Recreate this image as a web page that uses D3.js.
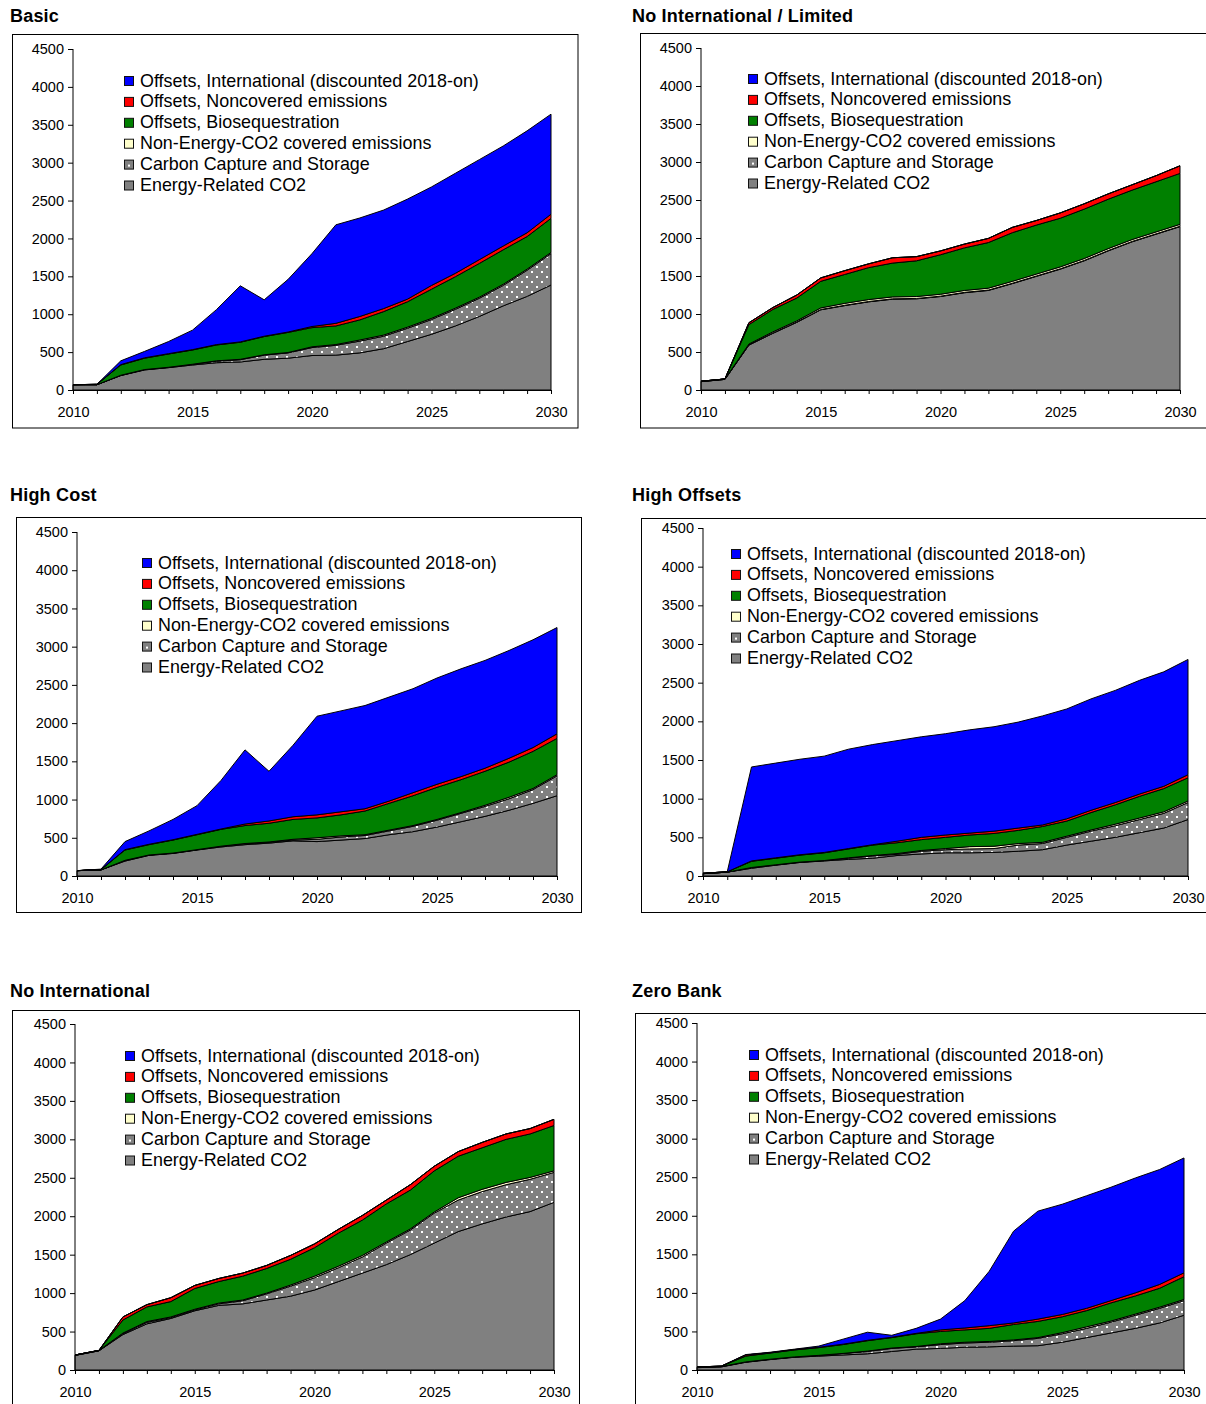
<!DOCTYPE html>
<html><head><meta charset="utf-8">
<script src="https://cdn.jsdelivr.net/npm/d3@7"></script>
<style>
body{margin:0;background:#fff}
svg{display:block}
text{font-family:"Liberation Sans",Arial,sans-serif;fill:#000}
</style>
</head><body>
<svg id="chart" width="1206" height="1404"></svg>
<script>
// ---------- categories / ticks ----------
const years = [2010,2011,2012,2013,2014,2015,2016,2017,2018,2019,2020,2021,2022,2023,2024,2025,2026,2027,2028,2029,2030];
const yTickValues = [0,500,1000,1500,2000,2500,3000,3500,4000,4500];
const xTickLabels = [2010,2015,2020,2025,2030];
const seriesKeys = ["energy","ccs","nonEnergy","bio","noncovered","intl"];
const seriesNames = ["Energy-Related CO2","Carbon Capture and Storage","Non-Energy-CO2 covered emissions","Offsets, Biosequestration","Offsets, Noncovered emissions","Offsets, International (discounted 2018-on)"];
const panelTitles = ["Basic","No International / Limited","High Cost","High Offsets","No International","Zero Bank"];

// ---------- Basic ----------
const basicEnergy     = [70,70,190,265,295,330,360,370,405,420,455,460,490,545,640,735,845,970,1110,1235,1385];
const basicCCS        = [0,0,5,5,5,10,20,30,55,70,105,130,155,165,175,195,220,240,270,345,415];
const basicNonEnergy  = [0,0,0,0,0,0,5,5,5,5,10,10,15,15,15,15,15,15,15,15,15];
const basicBio        = [0,5,135,150,175,188,209,225,240,265,253,245,265,310,335,385,415,445,455,430,450];
const basicNoncovered = [0,0,5,5,5,5,5,5,5,5,15,35,45,40,35,50,45,50,50,50,55];
const basicIntl       = [0,0,50,85,160,257,461,740,480,695,962,1300,1300,1300,1320,1300,1320,1320,1320,1345,1320];

// ---------- No International / Limited ----------
const limitedEnergy     = [110,140,590,745,890,1055,1110,1160,1195,1200,1230,1280,1310,1400,1495,1590,1700,1830,1950,2050,2150];
const limitedCCS        = [0,0,5,5,5,5,5,5,5,5,5,5,5,5,5,5,5,5,5,5,5];
const limitedNonEnergy  = [5,5,10,15,15,20,25,25,25,25,25,25,25,25,25,25,25,25,25,25,25];
const limitedBio        = [0,0,255,295,300,350,380,420,445,470,520,560,600,640,645,640,650,650,650,660,670];
const limitedNoncovered = [0,0,25,25,40,45,50,50,70,55,50,50,55,70,60,70,70,70,70,80,100];
const limitedIntl       = [0,0,0,0,0,0,0,0,0,0,0,0,0,0,0,0,0,0,0,0,0];

// ---------- High Cost ----------
const highCostEnergy     = [70,80,195,270,295,340,380,410,430,460,450,470,490,540,580,640,710,780,860,950,1050];
const highCostCCS        = [0,0,10,5,5,5,10,10,10,10,30,40,40,50,70,90,110,130,150,180,260];
const highCostNonEnergy  = [0,0,0,0,0,0,0,5,5,10,20,15,10,10,10,10,10,15,20,15,15];
const highCostBio        = [0,5,135,135,170,195,220,235,245,260,260,275,310,350,390,420,430,445,460,485,475];
const highCostNoncovered = [0,0,5,5,5,5,5,20,30,35,40,40,30,30,40,40,40,40,50,50,60];
const highCostIntl       = [0,5,105,175,265,375,635,970,650,935,1290,1320,1350,1360,1360,1390,1410,1410,1410,1410,1390];

// ---------- High Offsets ----------
const highOffEnergy     = [30,50,100,140,175,195,215,230,265,285,300,300,305,320,340,400,450,500,560,620,730];
const highOffCCS        = [0,0,10,5,5,5,15,30,15,35,40,50,50,80,80,100,130,150,170,190,220];
const highOffNonEnergy  = [0,0,0,0,0,0,5,5,10,10,15,30,30,20,15,15,15,20,20,20,20];
const highOffBio        = [5,5,80,85,90,100,115,135,140,140,145,150,165,170,205,195,225,250,280,300,300];
const highOffNoncovered = [0,0,5,5,5,5,5,5,20,30,30,25,30,30,20,30,30,30,30,30,40];
const highOffIntl       = [0,0,1215,1225,1235,1245,1285,1295,1300,1300,1310,1335,1350,1370,1410,1420,1440,1450,1470,1480,1490];

// ---------- No International ----------
const noIntlEnergy     = [190,250,460,600,670,770,840,860,910,960,1040,1150,1260,1370,1500,1650,1800,1900,1990,2060,2180];
const noIntlCCS        = [0,0,10,20,10,10,20,40,80,130,160,180,210,280,320,390,410,420,420,420,390];
const noIntlNonEnergy  = [5,5,10,10,10,10,10,10,10,15,20,20,20,15,15,15,30,30,30,25,20];
const noIntlBio        = [0,0,170,190,200,270,280,310,320,335,370,430,460,495,505,535,540,540,560,565,590];
const noIntlNoncovered = [0,0,40,30,50,40,40,40,40,50,50,50,60,50,70,60,60,70,70,70,80];
const noIntlIntl       = [0,0,0,0,0,0,0,0,0,0,0,0,0,0,0,0,0,0,0,0,0];

// ---------- Zero Bank ----------
const zeroBankEnergy     = [30,40,100,135,165,180,195,210,240,270,280,295,300,310,315,360,420,480,540,610,710];
const zeroBankCCS        = [5,5,5,5,5,10,20,30,40,30,50,55,60,70,95,110,120,140,170,190,190];
const zeroBankNonEnergy  = [0,0,0,0,0,0,0,5,5,5,10,10,10,10,10,15,20,15,15,15,15];
const zeroBankBio        = [5,5,75,80,90,100,115,135,135,165,160,160,170,200,210,205,210,235,235,245,295];
const zeroBankNoncovered = [0,0,15,5,5,5,5,5,5,5,20,25,35,20,30,30,30,30,40,50,50];
const zeroBankIntl       = [0,0,5,5,5,15,65,105,25,65,140,355,705,1190,1400,1430,1460,1470,1490,1490,1490];

const panelSeries = [
  [basicEnergy,basicCCS,basicNonEnergy,basicBio,basicNoncovered,basicIntl],
  [limitedEnergy,limitedCCS,limitedNonEnergy,limitedBio,limitedNoncovered,limitedIntl],
  [highCostEnergy,highCostCCS,highCostNonEnergy,highCostBio,highCostNoncovered,highCostIntl],
  [highOffEnergy,highOffCCS,highOffNonEnergy,highOffBio,highOffNoncovered,highOffIntl],
  [noIntlEnergy,noIntlCCS,noIntlNonEnergy,noIntlBio,noIntlNoncovered,noIntlIntl],
  [zeroBankEnergy,zeroBankCCS,zeroBankNonEnergy,zeroBankBio,zeroBankNoncovered,zeroBankIntl]
];

// ---------- styling / layout (not data) ----------
const seriesFills = ["#808080","url(#dots)","#ffffcc","#008000","#ff0000","#0000ff"];
const layouts = [
  {title:[10,22],  frame:[12.5,34.5,565.5,393.5],  x:[73,551],   y:[390,49],   legend:[124,76]},
  {title:[632,22], frame:[640.5,33.5,620,394.5],   x:[701,1180], y:[390,48],   legend:[748,74]},
  {title:[10,501], frame:[16.5,517.5,565,395],     x:[77,557],   y:[876,532],  legend:[142,558]},
  {title:[632,501],frame:[641.5,518.5,620,394],    x:[703,1188], y:[876,528],  legend:[731,549]},
  {title:[10,997], frame:[12.5,1010.5,567,420],    x:[75,554],   y:[1370,1024],legend:[125,1051]},
  {title:[632,997],frame:[635.5,1013.5,620,420],   x:[697,1184], y:[1370,1023],legend:[749,1050]}
];

const FONT = '"Liberation Sans",Arial,sans-serif';
const svg = d3.select("#chart");
const defs = svg.append("defs");
const pat = defs.append("pattern").attr("id","dots").attr("width",10).attr("height",10)
  .attr("patternUnits","userSpaceOnUse");
pat.append("rect").attr("width",10).attr("height",10).attr("fill","#808080");
pat.append("rect").attr("x",1).attr("y",1).attr("width",2).attr("height",2).attr("fill","#fff");
pat.append("rect").attr("x",6).attr("y",6).attr("width",2).attr("height",2).attr("fill","#fff");

panelSeries.forEach((series, pi) => {
  const L = layouts[pi];
  const g = svg.append("g");
  const table = years.map((yr, i) => {
    const row = {year: yr};
    seriesKeys.forEach((k, si) => row[k] = series[si][i]);
    return row;
  });
  const stacked = d3.stack().keys(seriesKeys)(table);
  const x = d3.scaleLinear().domain([2010,2030]).range(L.x);
  const y = d3.scaleLinear().domain([0,4500]).range(L.y);

  // title
  g.append("text").attr("x",L.title[0]).attr("y",L.title[1])
    .attr("font-size",18).attr("font-weight","bold").attr("letter-spacing",0.2).text(panelTitles[pi]);
  // frame
  g.append("rect").attr("x",L.frame[0]).attr("y",L.frame[1])
    .attr("width",L.frame[2]).attr("height",L.frame[3])
    .attr("fill","#fff").attr("stroke","#000").attr("stroke-width",1);

  // areas
  const area = d3.area().x(d => x(d.data.year)).y0(d => y(d[0])).y1(d => y(d[1]));
  g.append("g").selectAll("path").data(stacked).join("path")
    .attr("d", area)
    .attr("fill", (d,i) => seriesFills[i])
    .attr("stroke","#000").attr("stroke-width",1).attr("stroke-linejoin","round");

  // y axis
  const yAxis = d3.axisLeft(y).tickValues(yTickValues).tickSize(5).tickPadding(4).tickFormat(d3.format("d"));
  const ya = g.append("g").attr("transform",`translate(${L.x[0]},0)`).call(yAxis);
  ya.select(".domain").attr("d",`M0,${L.y[1]}V${L.y[0]}`).attr("stroke","#000");
  ya.selectAll("text").attr("font-size",14.5).attr("font-family",FONT).attr("fill","#000");
  ya.selectAll("line").attr("stroke","#000");

  // x axis
  const xAxis = d3.axisBottom(x).tickValues(years).tickSize(4).tickSizeOuter(0)
    .tickFormat(d => xTickLabels.includes(d) ? String(d) : "").tickPadding(13);
  const xa = g.append("g").attr("transform",`translate(0,${L.y[0]})`).call(xAxis);
  xa.select(".domain").attr("stroke","#000");
  xa.selectAll("text").attr("font-size",14.5).attr("font-family",FONT).attr("fill","#000");
  xa.selectAll("line").attr("stroke","#000");

  // legend
  const lg = g.append("g").attr("transform",`translate(${L.legend[0]},${L.legend[1]})`);
  const order = [5,4,3,2,1,0];
  order.forEach((si, r) => {
    const yy = r*20.9;
    lg.append("rect").attr("x",0.5).attr("y",yy+0.5).attr("width",9).attr("height",9)
      .attr("fill", si===1 ? "#808080" : seriesFills[si]).attr("stroke","#111").attr("stroke-width",1);
    if (si===1) lg.append("rect").attr("x",4).attr("y",yy+5).attr("width",2).attr("height",2).attr("fill","#fff");
    lg.append("text").attr("x",16).attr("y",yy+10.5).attr("font-size",17.9).text(seriesNames[si]);
  });
});
</script>
</body></html>
